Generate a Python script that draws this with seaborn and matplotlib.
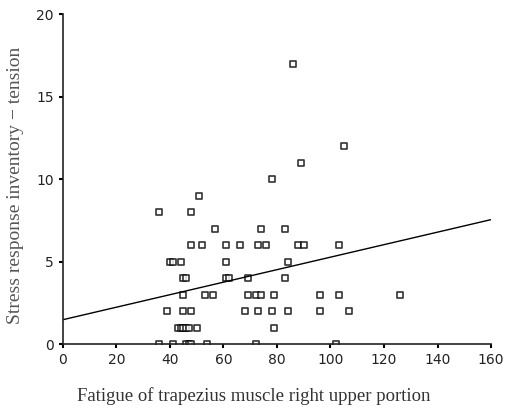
import matplotlib
matplotlib.use("Agg")
import matplotlib.pyplot as plt
import pandas as pd
import seaborn as sns

# fatigue (x) and stress-tension score (y)
fatigue = [
    86, 105, 89, 78, 51,
    36, 48,
    57, 74, 83,
    48, 52, 61, 66, 73, 76, 88, 90, 103,
    40, 41, 44, 61, 84,
    45, 46, 61, 62, 69, 83,
    45, 53, 56, 69, 72, 74, 79, 96, 103, 126,
    39, 45, 48, 68, 73, 78, 84, 96, 107,
    43, 44, 45, 46, 47, 50, 79,
    36, 41, 46, 47, 48, 54, 72, 102,
]
tension = (
    [17, 12, 11, 10, 9]
    + [8] * 2
    + [7] * 3
    + [6] * 9
    + [5] * 5
    + [4] * 6
    + [3] * 10
    + [2] * 9
    + [1] * 7
    + [0] * 8
)
x_ticks = [0, 20, 40, 60, 80, 100, 120, 140, 160]
y_ticks = [0, 5, 10, 15, 20]

df = pd.DataFrame({"fatigue": fatigue, "tension": tension})

sns.set_style("ticks")
fig = plt.figure(figsize=(5.12, 4.13), dpi=100)
ax = fig.add_axes([0.123, 0.167, 0.836, 0.799])
ax.set_xlim(0, 160)
ax.set_ylim(0, 20)

# fit line spans the whole x range (truncate=False uses current xlim)
sns.regplot(
    data=df,
    x="fatigue",
    y="tension",
    ci=None,
    truncate=False,
    marker="s",
    scatter_kws={"s": 16, "facecolors": "white", "edgecolors": "black", "linewidths": 1.2},
    line_kws={"color": "black", "lw": 1.0},
    ax=ax,
)

ax.set_xlim(0, 160)
ax.set_ylim(0, 20)
ax.set_xticks(x_ticks)
ax.set_yticks(y_ticks)
ax.tick_params(labelsize=10, length=3, width=1.5, color="black", labelcolor="#222")
for s in ["left", "bottom"]:
    ax.spines[s].set_linewidth(1.2)
    ax.spines[s].set_color("#222")
sns.despine(ax=ax)

ax.set_xlabel("Fatigue of trapezius muscle right upper portion",
              family="Liberation Serif", fontsize=13.5, color="#333")
ax.set_ylabel("Stress response inventory \u2212 tension",
              family="Liberation Serif", fontsize=14, color="#555")
ax.xaxis.set_label_coords(0.445, -0.13)
ax.yaxis.set_label_coords(-0.09, 0.48)

fig.savefig("out.png", dpi=100)
